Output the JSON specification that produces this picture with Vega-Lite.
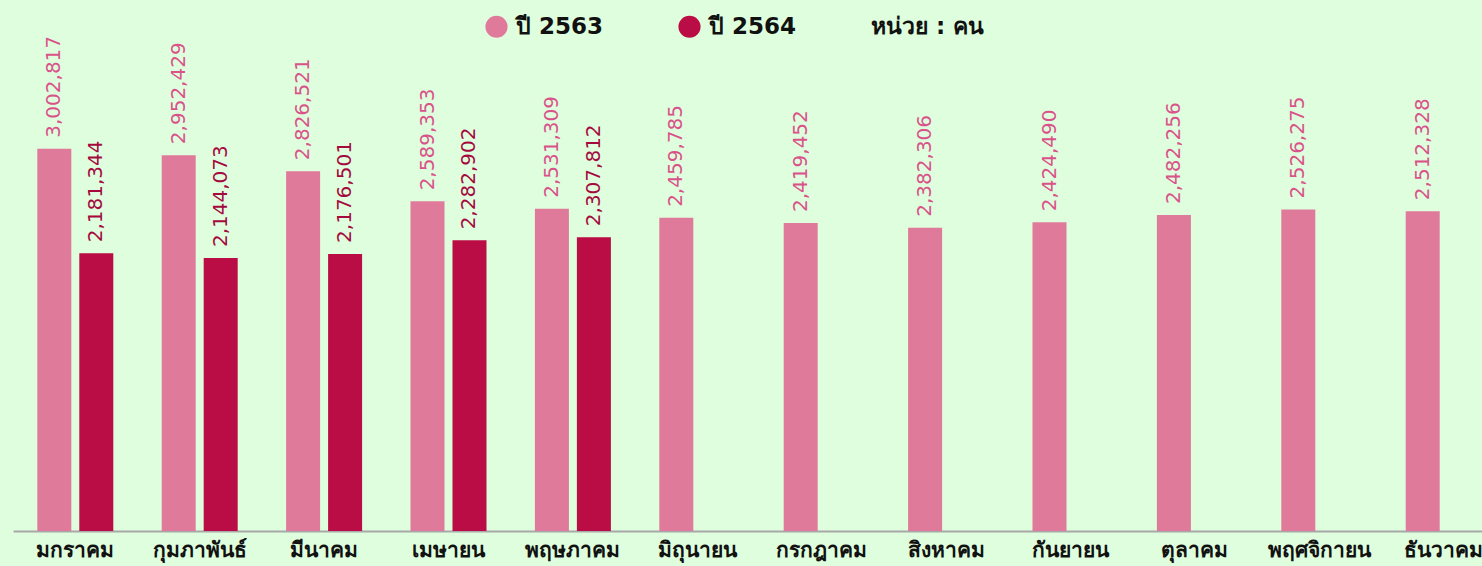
{
  "$schema": "https://vega.github.io/schema/vega-lite/v6.json",
  "width": 1482,
  "height": 531,
  "autosize": {"type": "none"},
  "padding": {"left": 0, "top": 0, "right": 0, "bottom": 35},
  "background": "#dffede",
  "config": {
    "view": {"stroke": null},
    "font": "DejaVu Sans"
  },
  "data": {
    "values": [
      {"month": "มกราคม", "year": "ปี 2563", "value": 3002817},
      {"month": "กุมภาพันธ์", "year": "ปี 2563", "value": 2952429},
      {"month": "มีนาคม", "year": "ปี 2563", "value": 2826521},
      {"month": "เมษายน", "year": "ปี 2563", "value": 2589353},
      {"month": "พฤษภาคม", "year": "ปี 2563", "value": 2531309},
      {"month": "มิถุนายน", "year": "ปี 2563", "value": 2459785},
      {"month": "กรกฎาคม", "year": "ปี 2563", "value": 2419452},
      {"month": "สิงหาคม", "year": "ปี 2563", "value": 2382306},
      {"month": "กันยายน", "year": "ปี 2563", "value": 2424490},
      {"month": "ตุลาคม", "year": "ปี 2563", "value": 2482256},
      {"month": "พฤศจิกายน", "year": "ปี 2563", "value": 2526275},
      {"month": "ธันวาคม", "year": "ปี 2563", "value": 2512328},
      {"month": "มกราคม", "year": "ปี 2564", "value": 2181344},
      {"month": "กุมภาพันธ์", "year": "ปี 2564", "value": 2144073},
      {"month": "มีนาคม", "year": "ปี 2564", "value": 2176501},
      {"month": "เมษายน", "year": "ปี 2564", "value": 2282902},
      {"month": "พฤษภาคม", "year": "ปี 2564", "value": 2307812}
    ]
  },
  "encoding": {
    "x": {
      "field": "month",
      "type": "nominal",
      "sort": null,
      "scale": {"range": [13.1, 1505.9], "paddingInner": 0.389, "paddingOuter": 0.1945},
      "axis": {
        "title": null,
        "labelAngle": 0,
        "labelFontSize": 21,
        "labelFontWeight": "bold",
        "labelColor": "#111111",
        "labelPadding": 8,
        "ticks": false,
        "domainColor": "#a8a8a8",
        "domainWidth": 2,
        "grid": false
      }
    },
    "xOffset": {
      "field": "year",
      "type": "nominal",
      "scale": {"domain": ["ปี 2563", "ปี 2564"], "paddingInner": 0.19, "paddingOuter": 0}
    },
    "y": {
      "field": "value",
      "type": "quantitative",
      "scale": {"domain": [0, 4171000], "nice": false},
      "axis": null
    }
  },
  "layer": [
    {
      "mark": {"type": "bar"},
      "encoding": {
        "color": {
          "field": "year",
          "type": "nominal",
          "scale": {"domain": ["ปี 2563", "ปี 2564"], "range": ["#e07a9b", "#bb0d45"]},
          "legend": {
            "orient": "none",
            "legendX": 485,
            "legendY": 15,
            "direction": "horizontal",
            "title": "หน่วย : คน",
            "titleOrient": "right",
            "titleFontSize": 23,
            "titleFontWeight": "bold",
            "titleColor": "#111111",
            "titlePadding": 75,
            "titleBaseline": "middle",
            "symbolType": "circle",
            "symbolSize": 490,
            "symbolStrokeWidth": 0,
            "labelFontSize": 23,
            "labelFontWeight": "bold",
            "labelColor": "#111111",
            "labelOffset": 8,
            "columnPadding": 74,
            "padding": 0
          }
        }
      }
    },
    {
      "mark": {"type": "text", "angle": 270, "align": "left", "baseline": "middle", "dx": 11, "fontSize": 20},
      "encoding": {
        "text": {"field": "value", "type": "quantitative", "format": ","},
        "color": {
          "field": "year",
          "type": "nominal",
          "scale": {"domain": ["ปี 2563", "ปี 2564"], "range": ["#d9538a", "#a50a3e"]},
          "legend": null
        }
      }
    }
  ],
  "resolve": {"scale": {"color": "independent"}}
}
